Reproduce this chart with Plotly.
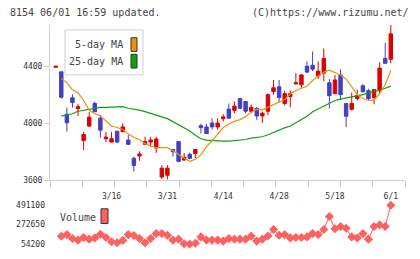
import plotly.graph_objects as go

dates = ["3/2","3/3","3/4","3/5","3/6","3/9","3/10","3/11","3/12","3/13",
         "3/16","3/17","3/18","3/19","3/23","3/24","3/25","3/26","3/27","3/30",
         "3/31","4/1","4/2","4/3","4/6","4/7","4/8","4/9","4/10","4/13",
         "4/14","4/15","4/16","4/17","4/20","4/21","4/22","4/23","4/24","4/27",
         "4/28","4/30","5/1","5/7","5/8","5/11","5/12","5/13","5/14","5/15",
         "5/18","5/19","5/20","5/21","5/22","5/25","5/26","5/27","5/28","5/29",
         "6/1"]

opens = [4393,4361,4064,4179,4103,3880,3981,4139,4036,3892,
         3869,3945,3942,3883,3755,3772,3853,3869,3828,3624,
         3636,3817,3872,3743,3783,3789,3984,3975,4002,3975,
         4032,4100,4091,4174,4153,4085,4105,4052,4085,4222,
         4256,4139,4188,4277,4270,4400,4407,4332,4352,4284,
         4208,4339,4139,4098,4174,4263,4229,4181,4229,4455,
         4449]
highs = [4400,4361,4110,4203,4135,3940,4078,4153,4057,3940,
         3940,3945,4000,3918,3766,3803,3906,3906,3906,3707,
         3707,3817,3872,3792,3796,3817,3997,3997,4036,4036,
         4064,4139,4153,4174,4153,4132,4114,4082,4208,4304,
         4304,4229,4229,4352,4345,4435,4503,4435,4524,4311,
         4339,4379,4139,4215,4235,4276,4242,4236,4428,4565,
         4689]
lows = [4393,4174,3942,4110,4052,3812,3974,4081,3899,3869,
        3869,3862,3937,3853,3662,3738,3850,3837,3793,3610,
        3607,3766,3727,3740,3748,3755,3929,3929,3956,3956,
        4014,4036,4071,4100,4070,4071,4025,4002,4059,4201,
        4146,4126,4112,4270,4249,4352,4366,4311,4297,4105,
        4208,4167,3974,4091,4160,4215,4160,4133,4208,4421,
        4421]
closes = [4400,4183,4004,4146,4117,3922,4043,4081,3952,3904,
          3892,3869,3975,3853,3705,3786,3872,3883,3890,3686,
          3686,3801,3734,3762,3755,3817,3970,3929,3975,4002,
          4045,4036,4121,4105,4085,4112,4052,4071,4201,4249,
          4181,4208,4208,4284,4339,4359,4380,4366,4455,4194,
          4304,4201,4050,4139,4194,4222,4174,4236,4387,4421,
          4627]

ma5 = [None,4315,4284,4236,4215,4160,4091,4067,4054,4016,
       3981,3971,3957,3926,3902,3885,3858,3841,3830,3830,
       3830,3810,3782,3755,3734,3748,3779,3837,3878,3923,
       3971,3995,4014,4026,4047,4078,4098,4095,4112,4133,
       4146,4167,4205,4230,4246,4260,4300,4328,4359,4373,
       4356,4339,4311,4256,4201,4174,4160,4164,4208,4270,
       4370]
ma25 = [None,4050,4057,4067,4085,4091,4095,4105,4112,4112,
        4112,4114,4117,4106,4100,4093,4082,4069,4058,4045,
        4033,4012,3992,3969,3947,3916,3892,3882,3880,3874,
        3875,3876,3878,3880,3887,3896,3900,3906,3920,3937,
        3952,3968,3981,4005,4026,4050,4081,4102,4122,4143,
        4160,4170,4177,4183,4193,4201,4213,4222,4232,4246,
        4261]
volume = [None,141600,160150,116460,97890,127380,108815,123015,163430,127380,
          79323,68400,94615,160150,149230,116460,68400,116460,171076,171076,
          152507,97890,108815,57477,54200,61846,133938,97890,97890,97890,
          86969,116460,108815,108815,108815,144861,86969,108815,144861,218045,
          152507,160150,123015,127380,127380,133938,171076,160150,218045,363321,
          225691,250814,232245,133938,123015,171076,108815,250814,269383,250814,
          491100]

price_ticks = [3600, 4000, 4400]
vol_ticks = [54200, 272650, 491100]
vol_tick_text = ["54200", "272650", "491100"]
label_idx = [10, 20, 30, 40, 50, 60]

x = list(range(len(dates)))
MONO = "DejaVu Sans Mono"
RED = "#dd0000"
BLUE = "#4040c0"
ORANGE = "#f0900a"
GREEN = "#10a010"
VOLC = "#ff6060"
AX = "#d0d0d0"

fig = go.Figure()
fig.add_trace(go.Candlestick(
    x=x, open=opens, high=highs, low=lows, close=closes,
    increasing=dict(line=dict(color=RED, width=1), fillcolor=RED),
    decreasing=dict(line=dict(color=BLUE, width=1), fillcolor=BLUE),
    whiskerwidth=0, xaxis="x", yaxis="y", showlegend=False, hoverinfo="skip"))
fig.add_trace(go.Scatter(x=x, y=ma25, mode="lines", line=dict(color=GREEN, width=1.2),
                         xaxis="x", yaxis="y", showlegend=False, hoverinfo="skip"))
fig.add_trace(go.Scatter(x=x, y=ma5, mode="lines", line=dict(color=ORANGE, width=1.2),
                         xaxis="x", yaxis="y", showlegend=False, hoverinfo="skip"))
fig.add_trace(go.Scatter(x=x, y=volume, mode="lines+markers",
                         line=dict(color=VOLC, width=1),
                         marker=dict(symbol="diamond", size=7, color=VOLC),
                         cliponaxis=False, xaxis="x2", yaxis="y2",
                         showlegend=False, hoverinfo="skip"))

xlo, xhi = -1.02, 62.54
minor_pos = [xlo + k * (xhi - xlo) / 11 for k in range(12)]

W, H = 420, 259
ML, MR, MT, MB = 50, 15, 25, 10
pw, ph = W - ML - MR, H - MT - MB

def px(v):
    return (v - ML) / pw

def py(v):
    return (H - MB - v) / ph

fig.update_layout(
    width=W, height=H, autosize=False,
    margin=dict(l=ML, r=MR, t=MT, b=MB),
    paper_bgcolor="white", plot_bgcolor="white",
    boxgap=0.12,
    font=dict(family=MONO, size=8, color="#333"),
    xaxis=dict(domain=[0, 1], range=[xlo, xhi], anchor="y",
               showline=True, linecolor=AX, linewidth=1,
               tickmode="array", tickvals=label_idx,
               ticktext=[dates[i] for i in label_idx],
               ticks="", ticklen=0, ticklabelstandoff=8,
               minor=dict(tickmode="array", tickvals=minor_pos, ticks="outside",
                          ticklen=6, tickcolor=AX, tickwidth=1, showgrid=False),
               showgrid=False, zeroline=False,
               rangeslider=dict(visible=False),
               tickfont=dict(family=MONO, size=8, color="#333")),
    yaxis=dict(domain=[py(184), 1], range=[3600, 4689], anchor="x",
               showline=True, linecolor=AX, linewidth=1,
               tickmode="array", tickvals=price_ticks,
               ticks="outside", ticklen=5, tickcolor=AX, tickwidth=1,
               showgrid=False, zeroline=False,
               tickfont=dict(family=MONO, size=8, color="#333")),
    xaxis2=dict(domain=[0, 1], range=[xlo, xhi], anchor="y2", visible=False),
    yaxis2=dict(domain=[0, py(209.3)], range=[54200, 491100], anchor="x2",
                showline=False, tickmode="array", tickvals=vol_ticks,
                ticktext=vol_tick_text,
                ticks="", showgrid=False, zeroline=False, ticklabelstandoff=4,
                tickfont=dict(family=MONO, size=8, color="#333")),
)

shapes = [
    dict(type="rect", xref="paper", yref="paper", x0=px(65), x1=px(143),
         y0=py(76), y1=py(30), line=dict(color="#d0d0d0", width=1),
         fillcolor="white", layer="above"),
    dict(type="rect", xref="paper", yref="paper", x0=px(131), x1=px(137),
         y0=py(52), y1=py(38), line=dict(color="#333", width=1),
         fillcolor=ORANGE, layer="above"),
    dict(type="rect", xref="paper", yref="paper", x0=px(131), x1=px(137),
         y0=py(69), y1=py(55), line=dict(color="#333", width=1),
         fillcolor=GREEN, layer="above"),
    dict(type="rect", xref="paper", yref="paper", x0=px(101), x1=px(108),
         y0=py(228), y1=py(213), line=dict(color="#333", width=1),
         fillcolor=VOLC, layer="above"),
]
annos = [
    dict(text="8154 06/01 16:59 updated.", x=px(8), y=py(12), xanchor="left",
         yanchor="middle"),
    dict(text="(C)https://www.rizumu.net/", x=px(411), y=py(12), xanchor="right",
         yanchor="middle"),
    dict(text="5-day MA", x=px(125), y=py(45), xanchor="right", yanchor="middle"),
    dict(text="25-day MA", x=px(125), y=py(62), xanchor="right", yanchor="middle"),
    dict(text="Volume", x=px(58), y=py(222), xanchor="left", yanchor="middle"),
]
for a in annos:
    a.update(xref="paper", yref="paper", showarrow=False,
             font=dict(family=MONO, size=10, color="#444"))
fig.update_layout(shapes=shapes, annotations=annos)

fig.write_html("out.html")
